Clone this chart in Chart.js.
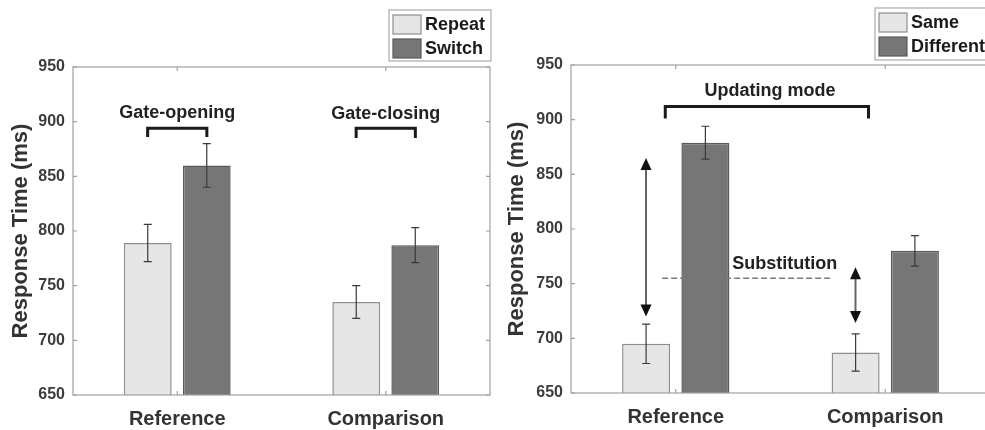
<!DOCTYPE html>
<html>
<head>
<meta charset="utf-8">
<script src="https://cdn.jsdelivr.net/npm/chart.js@4.4.1/dist/chart.umd.min.js"></script>
<style>
  html, body { margin: 0; padding: 0; background: #fff; overflow: hidden; }
  .panel { position: absolute; top: 0; height: 430px; }
  #leftPanel { left: 0; width: 493px; }
  #rightPanel { left: 490px; width: 500px; }
</style>
</head>
<body>
<div class="panel" id="leftPanel"><canvas id="leftChart"></canvas></div>
<div class="panel" id="rightPanel"><canvas id="rightChart"></canvas></div>
<script>
// data
const categories = ['Reference', 'Comparison'];
const yTicks = [650, 700, 750, 800, 850, 900, 950];

const repeatRT = [789, 735];
const repeatSE = [17, 15];
const switchRT = [860, 787];
const switchSE = [20, 16];

const sameRT = [695, 687];
const sameSE = [18, 17];
const diffRT = [879, 780];
const diffSE = [15, 14];

const FONT = '"Liberation Sans", Arial, sans-serif';
const lightFill = '#e6e6e6', lightEdge = '#8e8e8e';
const darkFill = '#767676', darkEdge = '#5a5a5a';

// error bars, box, inward ticks, legend and annotations
const panelDecor = {
  id: 'panelDecor',
  afterDatasetsDraw(chart) {
    const ctx = chart.ctx;
    const y = chart.scales.y;
    ctx.save();
    ctx.strokeStyle = '#3a3a3a';
    ctx.lineWidth = 1.2;
    chart.data.datasets.forEach((ds, i) => {
      const meta = chart.getDatasetMeta(i);
      meta.data.forEach((bar, j) => {
        const v = ds.data[j], e = ds.err[j];
        const top = y.getPixelForValue(v + e), bot = y.getPixelForValue(v - e);
        ctx.beginPath();
        ctx.moveTo(bar.x, top); ctx.lineTo(bar.x, bot);
        ctx.moveTo(bar.x - 4, top); ctx.lineTo(bar.x + 4, top);
        ctx.moveTo(bar.x - 4, bot); ctx.lineTo(bar.x + 4, bot);
        ctx.stroke();
      });
    });
    ctx.restore();
  },
  afterDraw(chart, args, opts) {
    const ctx = chart.ctx;
    const a = chart.chartArea;
    const xs = chart.scales.x, ys = chart.scales.y;
    ctx.save();
    // box
    ctx.strokeStyle = '#a0a0a0';
    ctx.lineWidth = 1.2;
    ctx.strokeRect(a.left, a.top, a.right - a.left, a.bottom - a.top);
    // inward ticks
    ctx.beginPath();
    yTicks.forEach(t => {
      const py = ys.getPixelForValue(t);
      ctx.moveTo(a.left, py); ctx.lineTo(a.left + 4, py);
      ctx.moveTo(a.right, py); ctx.lineTo(a.right - 4, py);
    });
    categories.forEach((c, i) => {
      const px = xs.getPixelForValue(i);
      ctx.moveTo(px, a.bottom); ctx.lineTo(px, a.bottom - 4);
      ctx.moveTo(px, a.top); ctx.lineTo(px, a.top + 4);
    });
    ctx.stroke();

    // legend
    const lg = opts.legend;
    ctx.fillStyle = '#fff';
    ctx.fillRect(lg.x, lg.y, lg.w, lg.h);
    ctx.strokeStyle = '#aaa';
    ctx.lineWidth = 1.2;
    ctx.strokeRect(lg.x, lg.y, lg.w, lg.h);
    ctx.font = 'bold 18px ' + FONT;
    ctx.textBaseline = 'middle';
    ctx.textAlign = 'left';
    chart.data.datasets.forEach((ds, i) => {
      const sy = lg.y + 5 + i * 24;
      ctx.fillStyle = ds.backgroundColor;
      ctx.fillRect(lg.x + 4, sy, 28, 19);
      ctx.strokeStyle = ds.borderColor;
      ctx.lineWidth = 1.2;
      ctx.strokeRect(lg.x + 4, sy, 28, 19);
      ctx.fillStyle = '#1a1a1a';
      ctx.fillText(ds.label, lg.x + 36, sy + 10);
    });

    // brackets
    ctx.strokeStyle = '#1a1a1a';
    ctx.lineWidth = 3;
    (opts.brackets || []).forEach(b => {
      const x0 = xs.getPixelForValue(b.x0), x1 = xs.getPixelForValue(b.x1);
      const yt = ys.getPixelForValue(b.top), yb = ys.getPixelForValue(b.bottom);
      ctx.beginPath();
      ctx.moveTo(x0, yb); ctx.lineTo(x0, yt); ctx.lineTo(x1, yt); ctx.lineTo(x1, yb);
      ctx.stroke();
    });

    // dashed reference line
    (opts.dashes || []).forEach(d => {
      ctx.save();
      ctx.strokeStyle = '#7a7a7a';
      ctx.lineWidth = 1.5;
      ctx.setLineDash([6, 3]);
      const py = ys.getPixelForValue(d.y);
      ctx.beginPath();
      ctx.moveTo(xs.getPixelForValue(d.x0), py);
      ctx.lineTo(xs.getPixelForValue(d.x1), py);
      ctx.stroke();
      ctx.restore();
    });

    // double-headed arrows
    (opts.arrows || []).forEach(ar => {
      const px = xs.getPixelForValue(ar.x);
      const yt = ys.getPixelForValue(ar.top), yb = ys.getPixelForValue(ar.bottom);
      ctx.strokeStyle = '#666';
      ctx.lineWidth = 2;
      ctx.beginPath();
      ctx.moveTo(px, yt + 8); ctx.lineTo(px, yb - 8);
      ctx.stroke();
      ctx.fillStyle = '#111';
      ctx.beginPath();
      ctx.moveTo(px, yt); ctx.lineTo(px - 5.5, yt + 12); ctx.lineTo(px + 5.5, yt + 12); ctx.closePath();
      ctx.moveTo(px, yb); ctx.lineTo(px - 5.5, yb - 12); ctx.lineTo(px + 5.5, yb - 12); ctx.closePath();
      ctx.fill();
    });

    // annotation labels
    ctx.fillStyle = '#222';
    ctx.font = 'bold 18px ' + FONT;
    ctx.textAlign = 'center';
    ctx.textBaseline = 'middle';
    (opts.labels || []).forEach(l => {
      ctx.fillText(l.text, xs.getPixelForValue(l.x), ys.getPixelForValue(l.y));
    });
    ctx.restore();
  }
};

function makePanel(id, series, yWidth, titlePad, padRight, padTop, xHeight, decor) {
  return new Chart(document.getElementById(id), {
    type: 'bar',
    data: {
      labels: categories,
      datasets: series.map(s => ({
        label: s.name,
        data: s.values,
        err: s.errs,
        backgroundColor: s.fill,
        borderColor: s.edge,
        borderWidth: 1.5,
        borderSkipped: false,
        categoryPercentage: 0.566,
        barPercentage: 0.81
      }))
    },
    options: {
      responsive: true,
      maintainAspectRatio: false,
      animation: false,
      layout: { padding: { left: 0, right: padRight, top: padTop, bottom: 0 } },
      plugins: {
        legend: { display: false },
        tooltip: { enabled: false },
        panelDecor: decor
      },
      scales: {
        x: {
          grid: { display: false, drawTicks: false },
          border: { display: false },
          ticks: { color: '#333', padding: 12, font: { family: FONT, size: 20, weight: 'bold' } },
          afterFit: sc => { sc.height = xHeight; }
        },
        y: {
          min: 650,
          max: 950,
          grid: { display: false, drawTicks: false },
          border: { display: false },
          afterBuildTicks: sc => { sc.ticks = yTicks.map(v => ({ value: v })); },
          ticks: { color: '#3c3c3c', padding: 8, font: { family: FONT, size: 16, weight: 'bold' } },
          title: {
            display: true,
            text: 'Response Time (ms)',
            color: '#333',
            padding: { top: titlePad, bottom: 0 },
            font: { family: FONT, size: 22, weight: 'bold' }
          },
          afterFit: sc => { sc.width = yWidth; }
        }
      }
    },
    plugins: [panelDecor]
  });
}

makePanel('leftChart', [
  { name: 'Repeat', values: repeatRT, errs: repeatSE, fill: lightFill, edge: lightEdge },
  { name: 'Switch', values: switchRT, errs: switchSE, fill: darkFill, edge: darkEdge }
], 73, 8, 3, 67, 35, {
  legend: { x: 389, y: 10, w: 102, h: 51 },
  brackets: [
    { x0: -0.142, x1: 0.142, top: 894, bottom: 886 },
    { x0: 0.858, x1: 1.142, top: 894, bottom: 885 }
  ],
  labels: [
    { text: 'Gate-opening', x: 0, y: 908 },
    { text: 'Gate-closing', x: 1, y: 907 }
  ]
});

makePanel('rightChart', [
  { name: 'Same', values: sameRT, errs: sameSE, fill: lightFill, edge: lightEdge },
  { name: 'Different', values: diffRT, errs: diffSE, fill: darkFill, edge: darkEdge }
], 81, 14, 0, 65, 37, {
  legend: { x: 385, y: 8, w: 130, h: 52 },
  brackets: [
    { x0: -0.05, x1: 0.92, top: 912, bottom: 901 }
  ],
  dashes: [
    { x0: -0.065, x1: 0.74, y: 755 }
  ],
  arrows: [
    { x: -0.142, top: 865, bottom: 720 },
    { x: 0.858, top: 765, bottom: 714 }
  ],
  labels: [
    { text: 'Updating mode', x: 0.45, y: 926 },
    { text: 'Substitution', x: 0.52, y: 768 }
  ]
});
</script>
</body>
</html>
